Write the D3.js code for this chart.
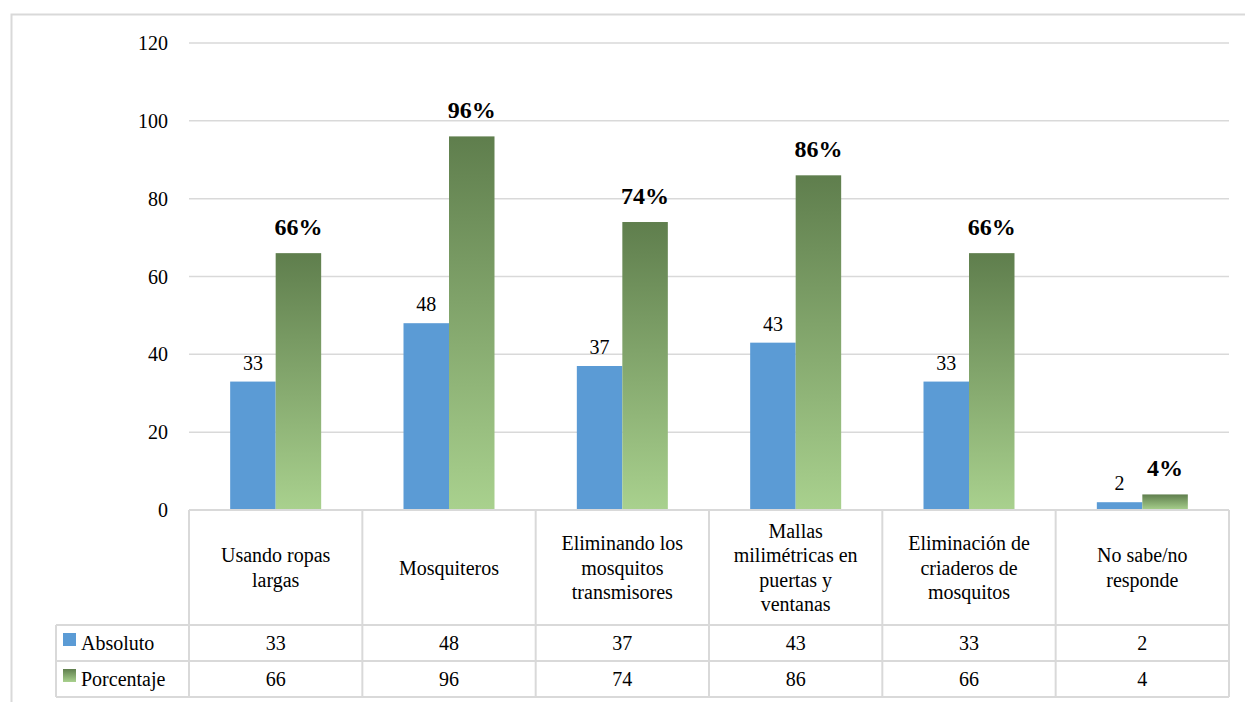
<!DOCTYPE html>
<html><head><meta charset="utf-8">
<script src="https://cdn.jsdelivr.net/npm/d3@7"></script>
<style>
@font-face{font-family:"ChartSerif";src:local("Liberation Serif"),local("LiberationSerif"),local("Tinos"),local("Times New Roman");font-weight:normal;}
@font-face{font-family:"ChartSerif";src:local("Liberation Serif Bold"),local("LiberationSerif-Bold"),local("Tinos Bold"),local("Times New Roman Bold");font-weight:bold;}
body{margin:0;background:#fff}
svg text{font-family:"Liberation Serif","ChartSerif",Tinos,"Times New Roman",Times,"Nimbus Roman",FreeSerif,serif !important}
</style>
</head><body><svg id="c" width="1245" height="702"></svg>
<script>
const categories = [["Usando ropas","largas"],["Mosquiteros"],["Eliminando los","mosquitos","transmisores"],["Mallas","milimétricas en","puertas y","ventanas"],["Eliminación de","criaderos de","mosquitos"],["No sabe/no","responde"]];
const absoluto = [33,48,37,43,33,2];
const porcentaje = [66,96,74,86,66,4];
const seriesNames = ["Absoluto","Porcentaje"];
const yTicks = [0,20,40,60,80,100,120];

(function(){
const FF = "'Liberation Serif'";
const svg = d3.select("#c");
const grid = "#d9d9d9";
const defs = svg.append("defs");
const g = defs.append("linearGradient").attr("id","gg").attr("x1",0).attr("y1",0).attr("x2",0).attr("y2",1);
g.append("stop").attr("offset","0%").attr("stop-color","#5f7e4d");
g.append("stop").attr("offset","100%").attr("stop-color","#a9d18e");

svg.append("rect").attr("x",11.5).attr("y",14.5).attr("width",1250).attr("height",700).attr("fill","none").attr("stroke",grid).attr("stroke-width",2);

const pLeft=189, pRight=1229, pTop=43, zero=510;
const x = d3.scaleBand().domain(d3.range(categories.length)).range([pLeft,pRight]);
const y = d3.scaleLinear().domain([0,120]).range([zero,pTop]);
const bw = 45.5;

const txt = (sel)=>sel.attr("font-family",FF).style("font-family","'Liberation Serif', Tinos, 'Times New Roman', Times, serif");

svg.append("g").selectAll("line").data(yTicks.filter(d=>d>0)).join("line")
  .attr("x1",pLeft).attr("x2",pRight).attr("y1",d=>y(d)).attr("y2",d=>y(d)).attr("stroke",grid).attr("stroke-width",1.5);
svg.append("g").selectAll("text").data(yTicks).join("text").call(txt)
  .attr("x",168).attr("y",d=>y(d)+7).attr("text-anchor","end").attr("font-size",20).text(d=>d);

const cx = i => x(i)+x.bandwidth()/2;
svg.append("g").selectAll("rect").data(absoluto).join("rect")
  .attr("x",(d,i)=>cx(i)-bw).attr("width",bw).attr("y",d=>y(d)).attr("height",d=>zero-y(d)).attr("fill","#5b9bd5");
svg.append("g").selectAll("rect").data(porcentaje).join("rect")
  .attr("x",(d,i)=>cx(i)).attr("width",bw).attr("y",d=>y(d)).attr("height",d=>zero-y(d)).attr("fill","url(#gg)");
svg.append("g").selectAll("text").data(absoluto).join("text").call(txt)
  .attr("x",(d,i)=>cx(i)-bw/2).attr("y",d=>y(d)-12).attr("text-anchor","middle").attr("font-size",20).text(d=>d);
svg.append("g").selectAll("text").data(porcentaje).join("text").call(txt)
  .attr("x",(d,i)=>cx(i)+bw/2).attr("y",d=>y(d)-18).attr("text-anchor","middle").attr("font-size",24).attr("font-weight","bold").text(d=>d+"%");

const rowY = [510,625,661,697];
const legL = 56;
const T = svg.append("g").attr("stroke",grid).attr("stroke-width",2);
T.append("line").attr("x1",pLeft).attr("x2",pRight).attr("y1",rowY[0]).attr("y2",rowY[0]);
[1,2,3].forEach(k=>T.append("line").attr("x1",legL).attr("x2",pRight).attr("y1",rowY[k]).attr("y2",rowY[k]));
d3.range(categories.length+1).forEach(i=>{
  const xx = i<categories.length? x(i): pRight;
  T.append("line").attr("x1",xx).attr("x2",xx).attr("y1",rowY[0]).attr("y2",rowY[3]);
});
T.append("line").attr("x1",legL).attr("x2",legL).attr("y1",rowY[1]).attr("y2",rowY[3]);

categories.forEach((lines,i)=>{
  const lh=24.5, n=lines.length, mid=(rowY[0]+rowY[1])/2;
  const t = svg.append("text").call(txt).attr("text-anchor","middle").attr("font-size",20);
  lines.forEach((l,k)=>t.append("tspan").attr("x",cx(i)).attr("y",mid+(k-(n-1)/2)*lh+7).text(l));
});
[absoluto,porcentaje].forEach((arr,r)=>{
  const ym=(rowY[r+1]+rowY[r+2])/2+7;
  svg.append("g").selectAll("text").data(arr).join("text").call(txt)
    .attr("x",(d,i)=>cx(i)).attr("y",ym).attr("text-anchor","middle").attr("font-size",20).text(d=>d);
  svg.append("rect").attr("x",63).attr("y",ym-17).attr("width",13).attr("height",13).attr("fill",r===0?"#5b9bd5":"url(#gg)");
  svg.append("text").call(txt).attr("x",81).attr("y",ym).attr("font-size",20).text(seriesNames[r]);
});
})();
</script></body></html>
